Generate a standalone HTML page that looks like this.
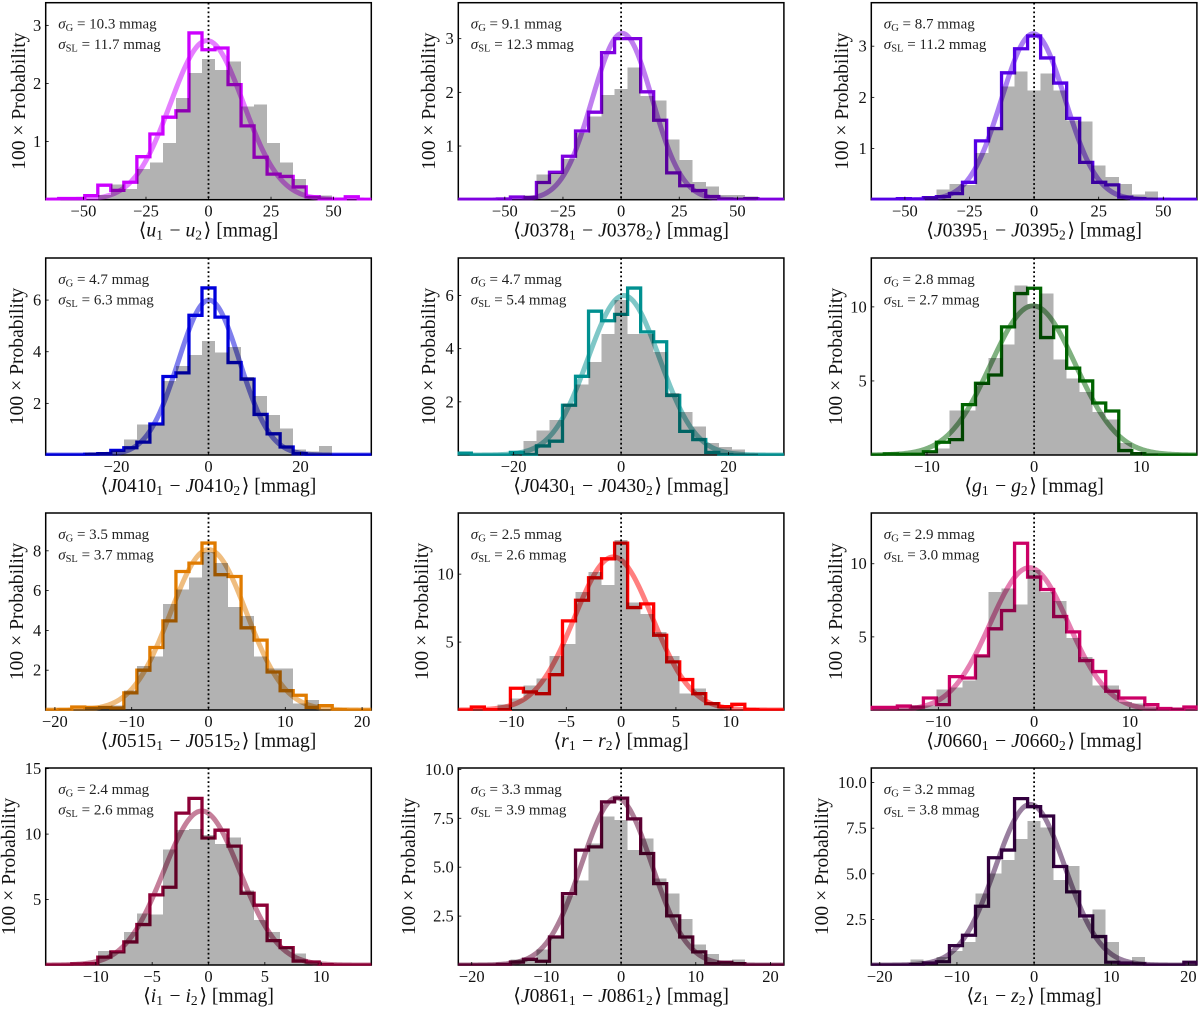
<!DOCTYPE html>
<html lang="en">
<head>
<meta charset="utf-8">
<title>Photometric offset histograms</title>
<style>
html,body{margin:0;padding:0;background:#fff;}
svg{display:block;font-family:"Liberation Serif","DejaVu Serif",serif;fill:#111;}
</style>
</head>
<body>
<svg id="figure" xmlns="http://www.w3.org/2000/svg" width="1200" height="1010" viewBox="0 0 1200 1010"></svg>
<script>
// Filter names printed on the x axis labels
const filterNames = ['u','J0378','J0395','J0410','J0430','g','J0515','r','J0660','i','J0861','z'];

// Colored outline histograms (100 x probability per bin, 25 bins across the x range)
const stepU = [0,0.02,0.02,0.07,0.25,0.16,0.30,0.74,1.13,1.42,1.53,2.87,2.58,2.61,1.98,1.27,0.73,0.44,0.40,0.22,0.05,0.01,0,0.05,0];
const stepJ0378 = [0,0,0,0.01,0.05,0.04,0.32,0.51,0.81,1.28,1.63,2.74,3.0,3.0,2.01,1.48,0.50,0.26,0.17,0.06,0.01,0,0.02,0,0];
const stepJ0395 = [0,0,0.02,0.01,0.04,0.06,0.12,0.34,1.15,1.39,2.48,2.95,3.2,2.77,2.28,1.59,0.73,0.34,0.29,0.05,0.02,0,0,0,0];
const stepJ0410 = [0,0,0,0.03,0.05,0.18,0.28,0.5,1.2,3.04,3.18,5.41,6.47,5.34,3.58,2.94,1.57,0.82,0.31,0.05,0,0,0,0,0];
const stepJ0430 = [0.07,0,0,0,0.1,0.02,0.34,0.52,1.87,2.96,5.41,5.05,5.29,6.28,4.63,4.26,2.24,0.89,0.58,0.1,0.02,0,0,0,0];
const stepG = [0,0.07,0.05,0.05,0.22,0.86,1.04,3.4,4.84,5.4,8.65,10.9,11.26,7.93,8.65,5.86,5.0,3.51,2.97,0.3,0.09,0,0,0,0];
const stepJ0515 = [0,0.02,0.15,0.13,0.13,0.1,0.86,2.0,3.14,4.48,6.96,7.38,8.39,6.8,6.71,4.13,3.51,1.91,0.97,0.74,0.13,0.22,0.02,0,0];
const stepR = [0,0.22,0.03,0.03,1.6,1.33,1.2,2.6,6.56,8.08,9.73,11.13,12.28,7.54,7.81,5.5,3.54,2.24,1.2,0.47,0.25,0.42,0.03,0,0];
const stepJ0660 = [0.18,0.18,0.27,0.2,0.82,0.37,2.28,2.19,3.7,5.55,6.8,11.4,9.09,8.24,6.39,5.34,3.38,2.63,1.28,0.82,0.82,0.37,0.1,0.05,0.2];
const stepI = [0,0,0.08,0.1,0.6,1.0,1.76,3.09,5.36,5.94,11.6,12.73,9.7,10.3,9.08,5.48,4.57,1.86,1.33,0.3,0.23,0.03,0,0,0];
const stepJ0861 = [0,0,0,0.03,0.15,0.29,0.19,1.43,3.65,5.87,6.04,8.34,8.53,7.47,5.7,4.16,2.51,1.43,0.67,0.07,0.14,0.07,0,0,0];
const stepZ = [0,0,0,0.02,0.11,0.18,1.06,1.63,3.22,5.88,6.3,9.12,8.68,8.17,5.4,4.01,2.69,1.56,0.15,0.11,0.07,0,0,0,0.15];

// Gray filled histograms (same bins)
const grayU = [0,0,0,0,0.08,0.26,0.18,0.53,0.64,0.98,1.75,2.18,2.42,2.23,2.38,1.6,1.64,0.98,0.64,0.36,0.06,0.07,0,0,0];
const grayJ0378 = [0,0,0,0.01,0.01,0.08,0.47,0.5,0.76,1.24,1.55,1.95,2.06,2.46,1.93,1.85,1.12,0.74,0.33,0.25,0.09,0.09,0.06,0,0];
const grayJ0395 = [0,0,0,0,0.06,0.2,0.31,0.29,0.91,1.42,2.21,2.51,2.13,2.47,2.13,1.55,1.53,0.67,0.44,0.31,0.1,0.16,0,0,0];
const grayJ0410 = [0,0,0,0.1,0.12,0.18,0.6,1.18,1.18,2.87,3.44,3.87,4.41,3.97,4.19,3.03,2.29,1.54,1.02,0.22,0.14,0.34,0,0,0];
const grayJ0430 = [0,0,0,0,0.03,0.52,0.93,1.31,1.93,2.66,3.5,4.55,5.83,4.55,4.55,3.88,2.34,1.62,1.08,0.46,0.3,0.2,0.05,0,0];
const grayG = [0,0,0,0.05,0.2,0.43,3.02,3.02,4.9,6.55,7.45,11.46,10.2,10.9,6.46,5.16,4.26,2.9,2.41,0.8,0.2,0.1,0,0,0];
const grayJ0515 = [0,0.02,0,0.15,0.2,0.22,0.99,2.2,2.7,5.33,6.06,6.66,7.95,7.38,5.18,4.73,2.7,2.08,2.08,0.32,0.49,0.02,0,0,0];
const grayR = [0,0,0,0.4,0.84,1.82,2.31,3.98,4.84,8.7,10.17,9.19,12.5,7.91,7.05,5.75,3.98,1.2,1.57,0.59,0.2,0,0,0,0];
const grayJ0660 = [0,0,0.1,0.3,0.3,1.39,1.53,2.03,3.74,8.08,8.31,7.21,9.57,8.08,7.44,4.93,3.63,1.69,1.69,0.55,0.43,0.16,0.05,0.1,0];
const grayI = [0,0,0,0.03,1.07,1.0,2.53,3.93,3.85,8.83,10.3,10.38,9.92,9.23,9.74,5.71,3.42,2.53,1.38,0.87,0.2,0,0,0,0];
const grayJ0861 = [0,0,0,0,0.29,0.27,0.78,1.43,3.52,4.33,6.21,7.58,7.41,5.87,6.47,4.42,3.65,2.35,1.06,0.55,0.15,0.29,0,0,0];
const grayZ = [0,0,0,0.29,0.04,0.44,0.77,1.26,3.92,5.02,5.75,6.9,7.89,7.53,4.65,5.42,2.55,3.04,1.26,0.04,0.44,0,0,0,0];

const stepSeries = [stepU,stepJ0378,stepJ0395,stepJ0410,stepJ0430,stepG,stepJ0515,stepR,stepJ0660,stepI,stepJ0861,stepZ];
const graySeries = [grayU,grayJ0378,grayJ0395,grayJ0410,grayJ0430,grayG,grayJ0515,grayR,grayJ0660,grayI,grayJ0861,grayZ];

// Gaussian curve parameters (mmag)
const gaussMeans = [-0.6,0.5,-0.3,0.1,0.5,-0.1,0,-0.7,-0.5,-0.6,-0.6,-0.5];
const gaussWidths = [14.57,12.87,12.3,6.65,6.65,3.96,4.95,3.54,4.1,3.39,4.67,4.53];

// Printed dispersions
const sigmaGLabels = ['10.3','9.1','8.7','4.7','4.7','2.8','3.5','2.5','2.9','2.4','3.3','3.2'];
const sigmaSLLabels = ['11.7','12.3','11.2','6.3','5.4','2.7','3.7','2.6','3.0','2.6','3.9','3.8'];

// Axis limits and ticks
const xHalfRanges = [65.1,70,63,35.4,30.3,15.2,21.2,14.85,17,14.45,21.8,21.1];
const yMaxima = [3.39,3.67,3.85,7.63,7.41,13.3,9.9,14.5,13.47,15.05,10.07,10.8];
const xTicksWide = [-50,-25,0,25,50];
const xTicks20 = [-20,0,20];
const xTicks10 = [-10,0,10];
const xTicks20by10 = [-20,-10,0,10,20];
const xTicks10by5 = [-10,-5,0,5,10];
const xTickSets = [xTicksWide,xTicksWide,xTicksWide,xTicks20,xTicks20,xTicks10,xTicks20by10,xTicks10by5,xTicks10,xTicks10by5,xTicks20by10,xTicks20by10];
const yTicks123 = ['1','2','3'];
const yTicks246 = ['2','4','6'];
const yTicks2468 = ['2','4','6','8'];
const yTicks510 = ['5','10'];
const yTicks51015 = ['5','10','15'];
const yTicksQuarter = ['2.5','5.0','7.5','10.0'];
const yTickSets = [yTicks123,yTicks123,yTicks123,yTicks246,yTicks246,yTicks510,yTicks2468,yTicks510,yTicks510,yTicks51015,yTicksQuarter,yTicksQuarter];

// Style
const filterColors = ['#cc00ff','#7f00e0','#5500e6','#0000dc','#009090','#006400','#e07b00','#ff0000','#cc0066','#8c0036','#5c0032','#33003f'];

// Layout
const colLefts = [45.7,458.3,871.3];
const rowTops = [2.7,258,513,768];
const panelW = 325.6;
const panelH = 197;
const yLabelBaselines = [25,435,848,23,435,842,23,428,842,15,415,828];

const NS = 'http://www.w3.org/2000/svg';
const fig = document.getElementById('figure');

function make(parent, tag, attrs, text) {
  const el = document.createElementNS(NS, tag);
  for (const k in attrs) el.setAttribute(k, attrs[k]);
  if (text !== undefined) el.textContent = text;
  parent.appendChild(el);
  return el;
}

function drawPanel(p) {
  const left = colLefts[p % 3];
  const top = rowTops[Math.floor(p / 3)];
  const right = left + panelW;
  const bottom = top + panelH;
  const xMax = xHalfRanges[p];
  const yMax = yMaxima[p];
  const sx = v => left + (v + xMax) / (2 * xMax) * panelW;
  const sy = v => bottom - v / yMax * panelH;
  const color = filterColors[p];
  const steps = stepSeries[p];
  const grays = graySeries[p];
  const binCount = steps.length;
  const edge = i => -xMax + i * (2 * xMax) / binCount;
  const key = filterNames[p].toLowerCase();

  const g = make(fig, 'g', {});
  
  

  const clipId = 'clip-' + p;
  const defs = make(g, 'defs', {});
  const clip = make(defs, 'clipPath', {id: clipId});
  make(clip, 'rect', {x: left - 0.75, y: top - 0.75, width: panelW + 1.5, height: panelH + 1.5});

  // Frame under the marks, ticks inward
  const frame = make(g, 'rect', {x: left, y: top, width: panelW, height: panelH, fill: 'none', stroke: '#000', 'stroke-width': 1.5});
  
  

  const plot = make(g, 'g', {'clip-path': 'url(#' + clipId + ')'});
  
  

  // Gaussian curve
  const mean = gaussMeans[p];
  const width = gaussWidths[p];
  const peak = 100 / (width * Math.sqrt(2 * Math.PI));
  let curve = '';
  for (let i = 0; i <= 240; i++) {
    const v = -xMax + i * 2 * xMax / 240;
    const d = (v - mean) / width;
    curve += (i ? 'L' : 'M') + sx(v).toFixed(2) + ' ' + sy(peak * Math.exp(-0.5 * d * d)).toFixed(2);
  }
  const gaussPath = make(plot, 'path', {d: curve, fill: 'none', stroke: color, 'stroke-opacity': 0.5, 'stroke-width': 5});
  
  

  // Colored step outline
  let outline = 'M' + sx(edge(0)).toFixed(2) + ' ' + sy(0).toFixed(2);
  for (let i = 0; i < binCount; i++) {
    outline += 'L' + sx(edge(i)).toFixed(2) + ' ' + sy(steps[i]).toFixed(2);
    outline += 'L' + sx(edge(i + 1)).toFixed(2) + ' ' + sy(steps[i]).toFixed(2);
  }
  outline += 'L' + sx(edge(binCount)).toFixed(2) + ' ' + sy(0).toFixed(2);
  const stepPath = make(plot, 'path', {d: outline, fill: 'none', stroke: color, 'stroke-width': 3.3, 'stroke-linejoin': 'miter'});
  
  

  // Gray translucent bars on top
  for (let i = 0; i < binCount; i++) {
    if (grays[i] <= 0) continue;
    const bar = make(plot, 'rect', {
      x: sx(edge(i)), y: sy(grays[i]),
      width: sx(edge(i + 1)) - sx(edge(i)), height: sy(0) - sy(grays[i]),
      fill: '#000', 'fill-opacity': 0.3, 'shape-rendering': 'crispEdges'
    });
    
    
  }

  // Dotted zero line
  const zero = make(plot, 'line', {x1: sx(0), x2: sx(0), y1: top, y2: bottom, stroke: '#000', 'stroke-width': 1.8, 'stroke-dasharray': '1.8 2.6'});
  
  

  // X ticks
  xTickSets[p].forEach(t => {
    const tick = make(g, 'line', {x1: sx(t), x2: sx(t), y1: bottom, y2: bottom - 3, stroke: '#000', 'stroke-width': 0.8});
    
    
    const label = make(g, 'text', {x: sx(t), y: bottom + 17, 'text-anchor': 'middle', 'font-size': 16.5}, (t < 0 ? '\u2212' : '') + Math.abs(t));
    
    
  });

  // Y ticks
  yTickSets[p].forEach(t => {
    const y = sy(parseFloat(t));
    const tick = make(g, 'line', {x1: left, x2: left + 3, y1: y, y2: y, stroke: '#000', 'stroke-width': 0.8});
    
    
    const label = make(g, 'text', {x: left - 4.5, y: y + 5.5, 'text-anchor': 'end', 'font-size': 16.5}, t);
    
    
  });

  // Y axis title
  const cy = top + panelH / 2;
  const yTitle = make(g, 'text', {
    x: yLabelBaselines[p], y: cy, 'text-anchor': 'middle', 'font-size': 19.6,
    transform: 'rotate(-90 ' + yLabelBaselines[p] + ' ' + cy + ')'
  }, '100 \u00d7 Probability');
  
  

  // X axis title
  const xTitle = make(g, 'text', {x: left + panelW / 2, y: bottom + 37, 'text-anchor': 'middle', 'font-size': 19.6});
  
  
  const name = filterNames[p];
  const addName = sub => {
    make(xTitle, 'tspan', {'font-style': 'italic'}, name.charAt(0));
    if (name.length > 1) make(xTitle, 'tspan', {}, name.slice(1));
    make(xTitle, 'tspan', {'font-size': 13.5, dy: 3}, sub);
    make(xTitle, 'tspan', {dy: -3}, '\u200a');
  };
  make(xTitle, 'tspan', {}, '\u27e8');
  addName('1');
  make(xTitle, 'tspan', {}, ' \u2212 ');
  addName('2');
  make(xTitle, 'tspan', {}, '\u27e9 [mmag]');

  // Sigma annotations
  const addSigma = (suffix, value, offset, label) => {
    const t = make(g, 'text', {x: left + 12.5, y: top + offset, 'font-size': 15, fill: '#222'});
    
    
    make(t, 'tspan', {'font-style': 'italic'}, '\u03c3');
    make(t, 'tspan', {'font-size': 10.5, dy: 2.5}, suffix);
    make(t, 'tspan', {dy: -2.5}, ' = ' + value + ' mmag');
  };
  addSigma('G', sigmaGLabels[p], 26, 'sigma-g-label');
  addSigma('SL', sigmaSLLabels[p], 46.5, 'sigma-sl-label');
}

for (let p = 0; p < filterNames.length; p++) drawPanel(p);
</script>
</body>
</html>
